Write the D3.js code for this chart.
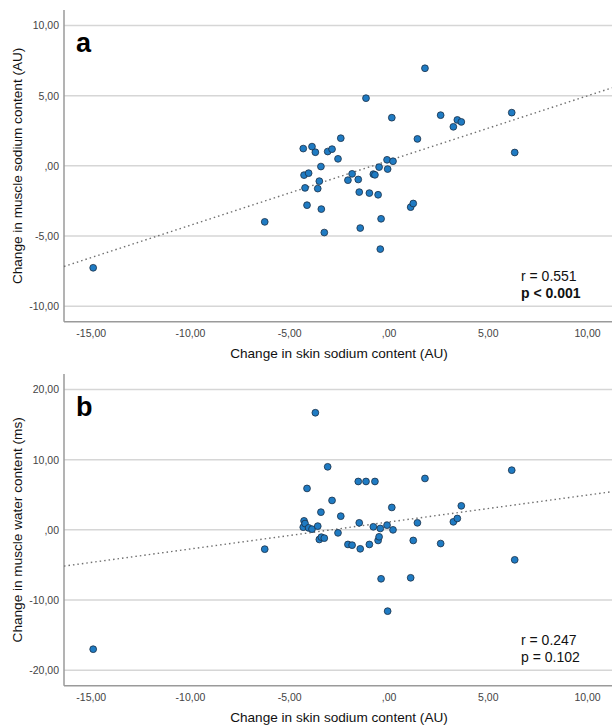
<!DOCTYPE html>
<html>
<head>
<meta charset="utf-8">
<script src="https://cdnjs.cloudflare.com/ajax/libs/d3/7.8.5/d3.min.js"></script>
<style>
  body { margin: 0; background: #fff; }
  svg { display: block; font-family: "Liberation Sans", Arial, sans-serif; }
  .grid { stroke: #d6d6d6; stroke-width: 1.5; }
  .frame { stroke: #9a9a9a; stroke-width: 1.5; }
  .tick-label { font-size: 10.5px; fill: #444; }
  .ax-title { font-size: 13.6px; fill: #111; }
  .dot { fill: #1f7bc3; stroke: #1b2f45; stroke-width: 0.8; }
  .fit { stroke: #707070; stroke-width: 1.4; stroke-dasharray: 1.5,3; fill: none; }
  .stat { font-size: 14px; fill: #111; }
</style>
</head>
<body>
<div id="chart"></div>
<script>

// change in skin sodium content (AU), one value per subject
var skinNa = [-14.9, -6.26, -4.32, -4.28, -4.23, -4.13, -4.05, -3.88, -3.71, -3.59,
              -3.51, -3.43, -3.41, -3.26, -3.09, -2.87, -2.57, -2.43, -2.07, -1.86,
              -1.55, -1.50, -1.45, -1.16, -0.99, -0.79, -0.71, -0.55, -0.50, -0.44,
              -0.40, -0.10, -0.07, 0.14, 0.20, 1.09, 1.22, 1.43, 1.81, 2.60,
              3.24, 3.44, 3.64, 6.18, 6.33];

// panel a: change in muscle sodium content (AU)
var muscleNa = [-7.26, -3.99, 1.23, -0.66, -1.57, -2.80, -0.52, 1.37, 0.97, -1.62,
                -1.09, -0.05, -3.08, -4.75, 1.02, 1.19, 0.50, 1.97, -1.02, -0.57,
                -0.97, -1.87, -4.43, 4.82, -1.94, -0.59, -0.64, -2.06, -0.09, -5.93,
                -3.77, 0.43, -0.23, 3.43, 0.33, -2.94, -2.68, 1.92, 6.95, 3.61,
                2.78, 3.27, 3.13, 3.79, 0.95];

// panel b: change in muscle water content (ms)
var muscleWater = [-17.0, -2.75, 0.38, 1.28, 0.9, 5.90, 0.28, 0.10, 16.68, 0.53,
                   -1.37, 2.52, -1.04, -1.18, 8.98, 4.19, -0.43, 1.95, -2.08, -2.18,
                   6.89, 1.00, -2.70, 6.89, -2.08, 0.43, 6.89, -1.51, -0.99, 0.20,
                   -6.97, 0.67, -11.58, 3.19, 0.00, -6.83, -1.51, 1.00, 7.32, -1.95,
                   1.14, 1.62, 3.42, 8.50, -4.27];

var xTicks = [-15, -10, -5, 0, 5, 10];
var yTicksA = [-10, -5, 0, 5, 10];
var yTicksB = [-20, -10, 0, 10, 20];

// fit lines [intercept, slope] as printed
var fitA = [0.38, 0.461];
var fitB = [1.12, 0.384];

var statsA = ["r = 0.551", "p < 0.001"];
var statsB = ["r = 0.247", "p = 0.102"];

var width = 612,
    height = 728;

var svg = d3.select("#chart").append("svg")
    .attr("width", width)
    .attr("height", height);

// SPSS style number: 5,00 / ,00 / -10,00
function spssFmt(v) {
    var s = Math.abs(v).toFixed(2).replace(".", ",");
    if (s.indexOf("0,") === 0) s = s.slice(1);
    return (v < 0 ? "-" : "") + s;
}

var x = d3.scaleLinear().domain([-16.37, 11.23]).range([64, 612]);

function drawPanel(opt) {
    var y = d3.scaleLinear().domain(opt.yDomain).range([opt.bottom, opt.top]);
    var g = svg.append("g");

    // horizontal grid
    g.selectAll("line.grid")
        .data(opt.yTicks).enter().append("line")
        .attr("class", "grid")
        .attr("x1", x.range()[0]).attr("x2", x.range()[1])
        .attr("y1", function(d) { return y(d); })
        .attr("y2", function(d) { return y(d); });

    // axes frame (left + bottom)
    g.append("line").attr("class", "frame")
        .attr("x1", 64).attr("x2", 64)
        .attr("y1", opt.top).attr("y2", opt.bottom);
    g.append("line").attr("class", "frame")
        .attr("x1", 64).attr("x2", 612)
        .attr("y1", opt.bottom).attr("y2", opt.bottom);

    g.selectAll("text.ytick")
        .data(opt.yTicks).enter().append("text")
        .attr("class", "tick-label ytick")
        .attr("x", 59)
        .attr("y", function(d) { return y(d) + 4; })
        .attr("text-anchor", "end")
        .text(spssFmt);

    g.selectAll("text.xtick")
        .data(xTicks).enter().append("text")
        .attr("class", "tick-label xtick")
        .attr("x", function(d) { return x(d); })
        .attr("y", opt.bottom + 15)
        .attr("text-anchor", "middle")
        .text(spssFmt);

    g.append("text")
        .attr("class", "ax-title")
        .attr("x", 339)
        .attr("y", opt.bottom + 36)
        .attr("text-anchor", "middle")
        .text("Change in skin sodium content (AU)");

    g.append("text")
        .attr("class", "ax-title")
        .attr("transform", "translate(22," + ((opt.top + opt.bottom) / 2) + ") rotate(-90)")
        .attr("text-anchor", "middle")
        .text(opt.yTitle);

    // fit line across full x range
    var xs = x.domain();
    g.append("line")
        .attr("class", "fit")
        .attr("x1", x(xs[0])).attr("x2", x(xs[1]))
        .attr("y1", y(opt.fit[0] + opt.fit[1] * xs[0]))
        .attr("y2", y(opt.fit[0] + opt.fit[1] * xs[1]));

    var pts = skinNa.map(function(d, i) { return {x: d, y: opt.values[i]}; });
    g.selectAll("circle.dot")
        .data(pts).enter().append("circle")
        .attr("class", "dot")
        .attr("r", 3.4)
        .attr("cx", function(d) { return x(d.x); })
        .attr("cy", function(d) { return y(d.y); });

    g.append("text")
        .attr("x", 76)
        .attr("y", opt.top + 42)
        .style("font-size", "27px")
        .style("font-weight", "bold")
        .style("font-family", "'Liberation Sans', Arial, sans-serif")
        .text(opt.letter);

    g.append("text").attr("class", "stat")
        .attr("x", 521).attr("y", opt.bottom - 41)
        .text(opt.stats[0]);
    g.append("text").attr("class", "stat")
        .attr("x", 521).attr("y", opt.bottom - 24)
        .style("font-weight", opt.boldP ? "bold" : "normal")
        .text(opt.stats[1]);
}

drawPanel({
    top: 10, bottom: 321.7,
    yDomain: [-11.1, 11.1],
    yTicks: yTicksA,
    values: muscleNa,
    fit: fitA,
    yTitle: "Change in muscle sodium content (AU)",
    letter: "a",
    stats: statsA,
    boldP: true
});

drawPanel({
    top: 374, bottom: 685.7,
    yDomain: [-22.2, 22.2],
    yTicks: yTicksB,
    values: muscleWater,
    fit: fitB,
    yTitle: "Change in muscle water content (ms)",
    letter: "b",
    stats: statsB,
    boldP: false
});

</script>
</body>
</html>
